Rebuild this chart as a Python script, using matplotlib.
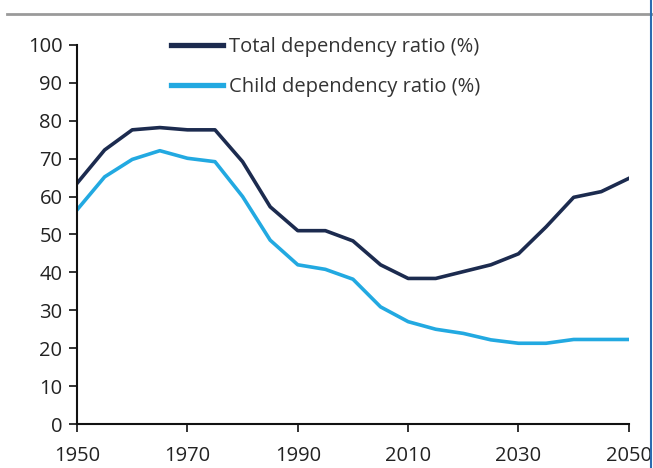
import matplotlib
matplotlib.use("Agg")
import matplotlib.pyplot as plt
from matplotlib.lines import Line2D

plt.rcParams['font.family'] = ['Open Sans', 'DejaVu Sans']

# 5-year steps, 1950-2050
years = list(range(1950, 2051, 5))
total_ratio = [63.5, 72.3, 77.6, 78.2, 77.6, 77.6, 69.2, 57.3, 51.0, 51.0, 48.3,
               42.0, 38.4, 38.4, 40.2, 42.0, 44.9, 52.0, 59.8, 61.3, 64.8]
child_ratio = [56.5, 65.2, 69.8, 72.1, 70.1, 69.2, 60.0, 48.5, 42.0, 40.8, 38.2,
               30.9, 27.0, 25.0, 23.9, 22.2, 21.3, 21.3, 22.3, 22.3, 22.3]
x_ticks = [1950, 1970, 1990, 2010, 2030, 2050]
y_ticks = list(range(0, 101, 10))

navy = '#1c2b4f'
cyan = '#22a9e1'

fig = plt.figure(figsize=(6.53, 4.68), dpi=100)
ax = fig.add_axes([0.118, 0.094, 0.845, 0.810])

ax.plot(years, total_ratio, color=navy, lw=2.6, label='Total dependency ratio (%)')
ax.plot(years, child_ratio, color=cyan, lw=2.6, label='Child dependency ratio (%)')

ax.set_xlim(1950, 2050)
ax.set_ylim(0, 100)
ax.set_xticks(x_ticks)
ax.set_yticks(y_ticks)
ax.tick_params(axis='both', labelsize=14.5, colors='#222222', width=1.3, length=5.5)
ax.tick_params(axis='y', pad=5)
ax.tick_params(axis='x', pad=10.5)

for side in ('top', 'right'):
    ax.spines[side].set_visible(False)
for side in ('left', 'bottom'):
    ax.spines[side].set_linewidth(1.5)
    ax.spines[side].set_color('#111111')

leg = ax.legend(loc='upper left', bbox_to_anchor=(0.137, 1.068), frameon=False,
                fontsize=14.5, handlelength=2.6, handletextpad=0.3, labelspacing=1.0)
for h in leg.get_lines():
    h.set_linewidth(3.8)
for t in leg.get_texts():
    t.set_color('#333333')

# rule under the heading and blue border on the right
fig.add_artist(Line2D([0.01, 1.0], [0.970, 0.970], color='#9a9a9a', lw=2.0))
fig.add_artist(Line2D([0.997, 0.997], [0.0, 1.0], color='#2b6cb0', lw=1.5))

fig.savefig('out.png', dpi=100)
